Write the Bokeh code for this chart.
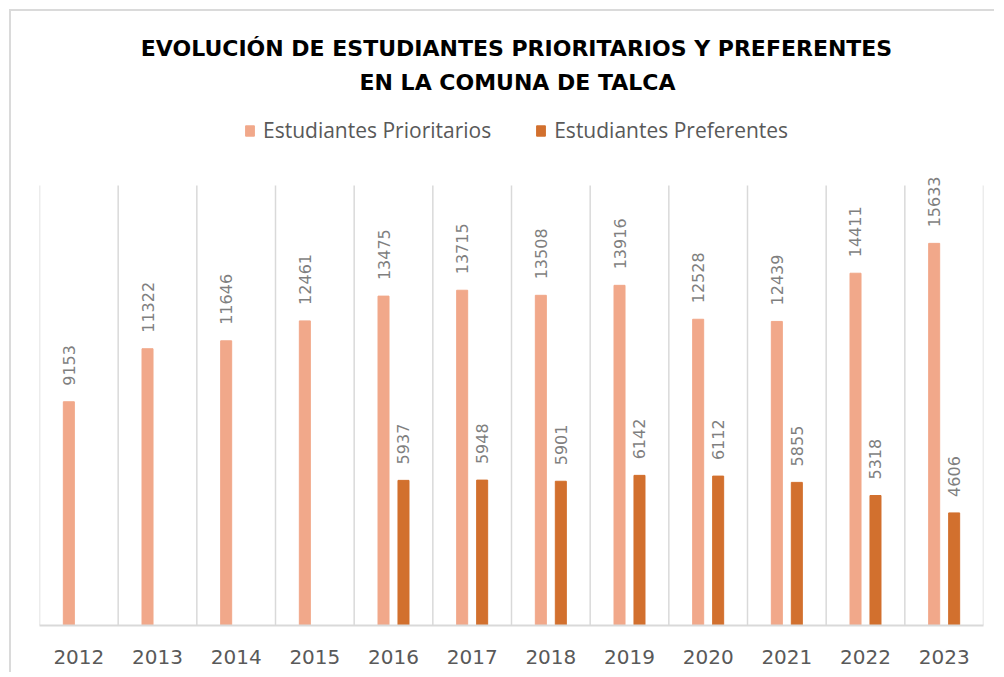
import math
from bokeh.plotting import figure
from bokeh.models import (ColumnDataSource, Range1d, FixedTicker, CustomJSTickFormatter,
                          Legend, LegendItem, LabelSet, Label)
from bokeh.core.properties import value
from bokeh.embed import file_html
from bokeh.resources import INLINE

title_line1 = "EVOLUCIÓN DE ESTUDIANTES PRIORITARIOS Y PREFERENTES"
title_line2 = "EN LA COMUNA DE TALCA"
series_names = ["Estudiantes Prioritarios", "Estudiantes Preferentes"]
years = ["2012", "2013", "2014", "2015", "2016", "2017", "2018", "2019",
         "2020", "2021", "2022", "2023"]
prioritarios = [9153, 11322, 11646, 12461, 13475, 13715, 13508, 13916,
                12528, 12439, 14411, 15633]
preferentes = [None, None, None, None, 5937, 5948, 5901, 6142,
               6112, 5855, 5318, 4606]
y_axis_max = 18000

COL_PRI = "#F1A88A"
COL_PRE = "#D2702E"
GRID_COL = "#d9d9d9"
OFF = 0.127
BW = 0.14

# layout (pixels); the figure sits 11px in from the page corner (margin + border)
W, H = 985, 663
LEFT, RIGHT, TOP, BOTTOM = 28, 13, 1, 49
FRAME_H = H - TOP - BOTTOM
GRID_H = 440          # pixel height of the value scale 0..y_axis_max

idx = list(range(len(years)))
src_pri = ColumnDataSource(dict(
    x=[i + 0.5 - OFF for i in idx], top=prioritarios,
    lab=[str(v) for v in prioritarios]))
pre_i = [i for i in idx if preferentes[i] is not None]
src_pre = ColumnDataSource(dict(
    x=[i + 0.5 + OFF for i in pre_i], top=[preferentes[i] for i in pre_i],
    lab=[str(preferentes[i]) for i in pre_i]))

p = figure(width=W, height=H, output_backend="svg", toolbar_location=None,
           x_range=Range1d(0, len(years)),
           y_range=Range1d(0, y_axis_max * FRAME_H / GRID_H),
           min_border_left=LEFT, min_border_right=RIGHT, min_border_top=TOP,
           min_border_bottom=BOTTOM)
p.styles = {"margin-left": "9px", "margin-top": "9px",
            "border-left": "2px solid #dadada", "border-top": "2px solid #dadada"}
p.outline_line_color = None
p.background_fill_color = "white"
p.border_fill_color = "white"
p.xgrid.visible = False
p.ygrid.visible = False
p.yaxis.visible = False

# vertical category separators (the chart's gridlines), from 0 to the axis max
bounds = list(range(len(years) + 1))
p.segment(x0=bounds, y0=[0] * len(bounds), x1=bounds, y1=[y_axis_max] * len(bounds),
          line_color=GRID_COL, line_width=1.5)

r1 = p.vbar(x="x", top="top", width=BW, source=src_pri, color=COL_PRI)
r2 = p.vbar(x="x", top="top", width=BW, source=src_pre, color=COL_PRE)

for src in (src_pri, src_pre):
    p.add_layout(LabelSet(x="x", y="top", text="lab", source=src, angle=math.pi / 2,
                          text_align="left", text_baseline="middle", y_offset=16,
                          text_font=value("DejaVu Sans"), text_font_size="16px",
                          text_color="#7f7f7f"))

xa = p.xaxis[0]
xa.ticker = FixedTicker(ticks=[i + 0.5 for i in idx])
xa.formatter = CustomJSTickFormatter(args=dict(years=years),
                                     code="return years[Math.floor(tick)];")
xa.major_tick_line_color = None
xa.minor_tick_line_color = None
xa.axis_line_color = GRID_COL
xa.axis_line_width = 2
xa.major_label_text_font = "DejaVu Sans"
xa.major_label_text_font_size = "20px"
xa.major_label_text_color = "#595959"
xa.major_label_standoff = 18

legend = Legend(items=[LegendItem(label=series_names[0], renderers=[r1]),
                       LegendItem(label=series_names[1], renderers=[r2])],
                orientation="horizontal", location=(205, 481),
                margin=0, padding=0, border_line_color=None,
                background_fill_alpha=0, label_text_font="Open Sans",
                label_text_font_size="21px", label_text_color="#595959",
                glyph_width=11, glyph_height=13, label_standoff=8, spacing=44)
p.add_layout(legend, "center")

for txt, sx, sy in ((title_line1, 477, 577), (title_line2, 478, 543)):
    p.add_layout(Label(x=sx, y=sy, x_units="screen", y_units="screen",
                       text=txt, text_align="center", text_baseline="middle",
                       text_font="DejaVu Sans", text_font_style="bold",
                       text_font_size="22px", text_color="#000000"))

open("out.html", "w").write(file_html(p, INLINE))
